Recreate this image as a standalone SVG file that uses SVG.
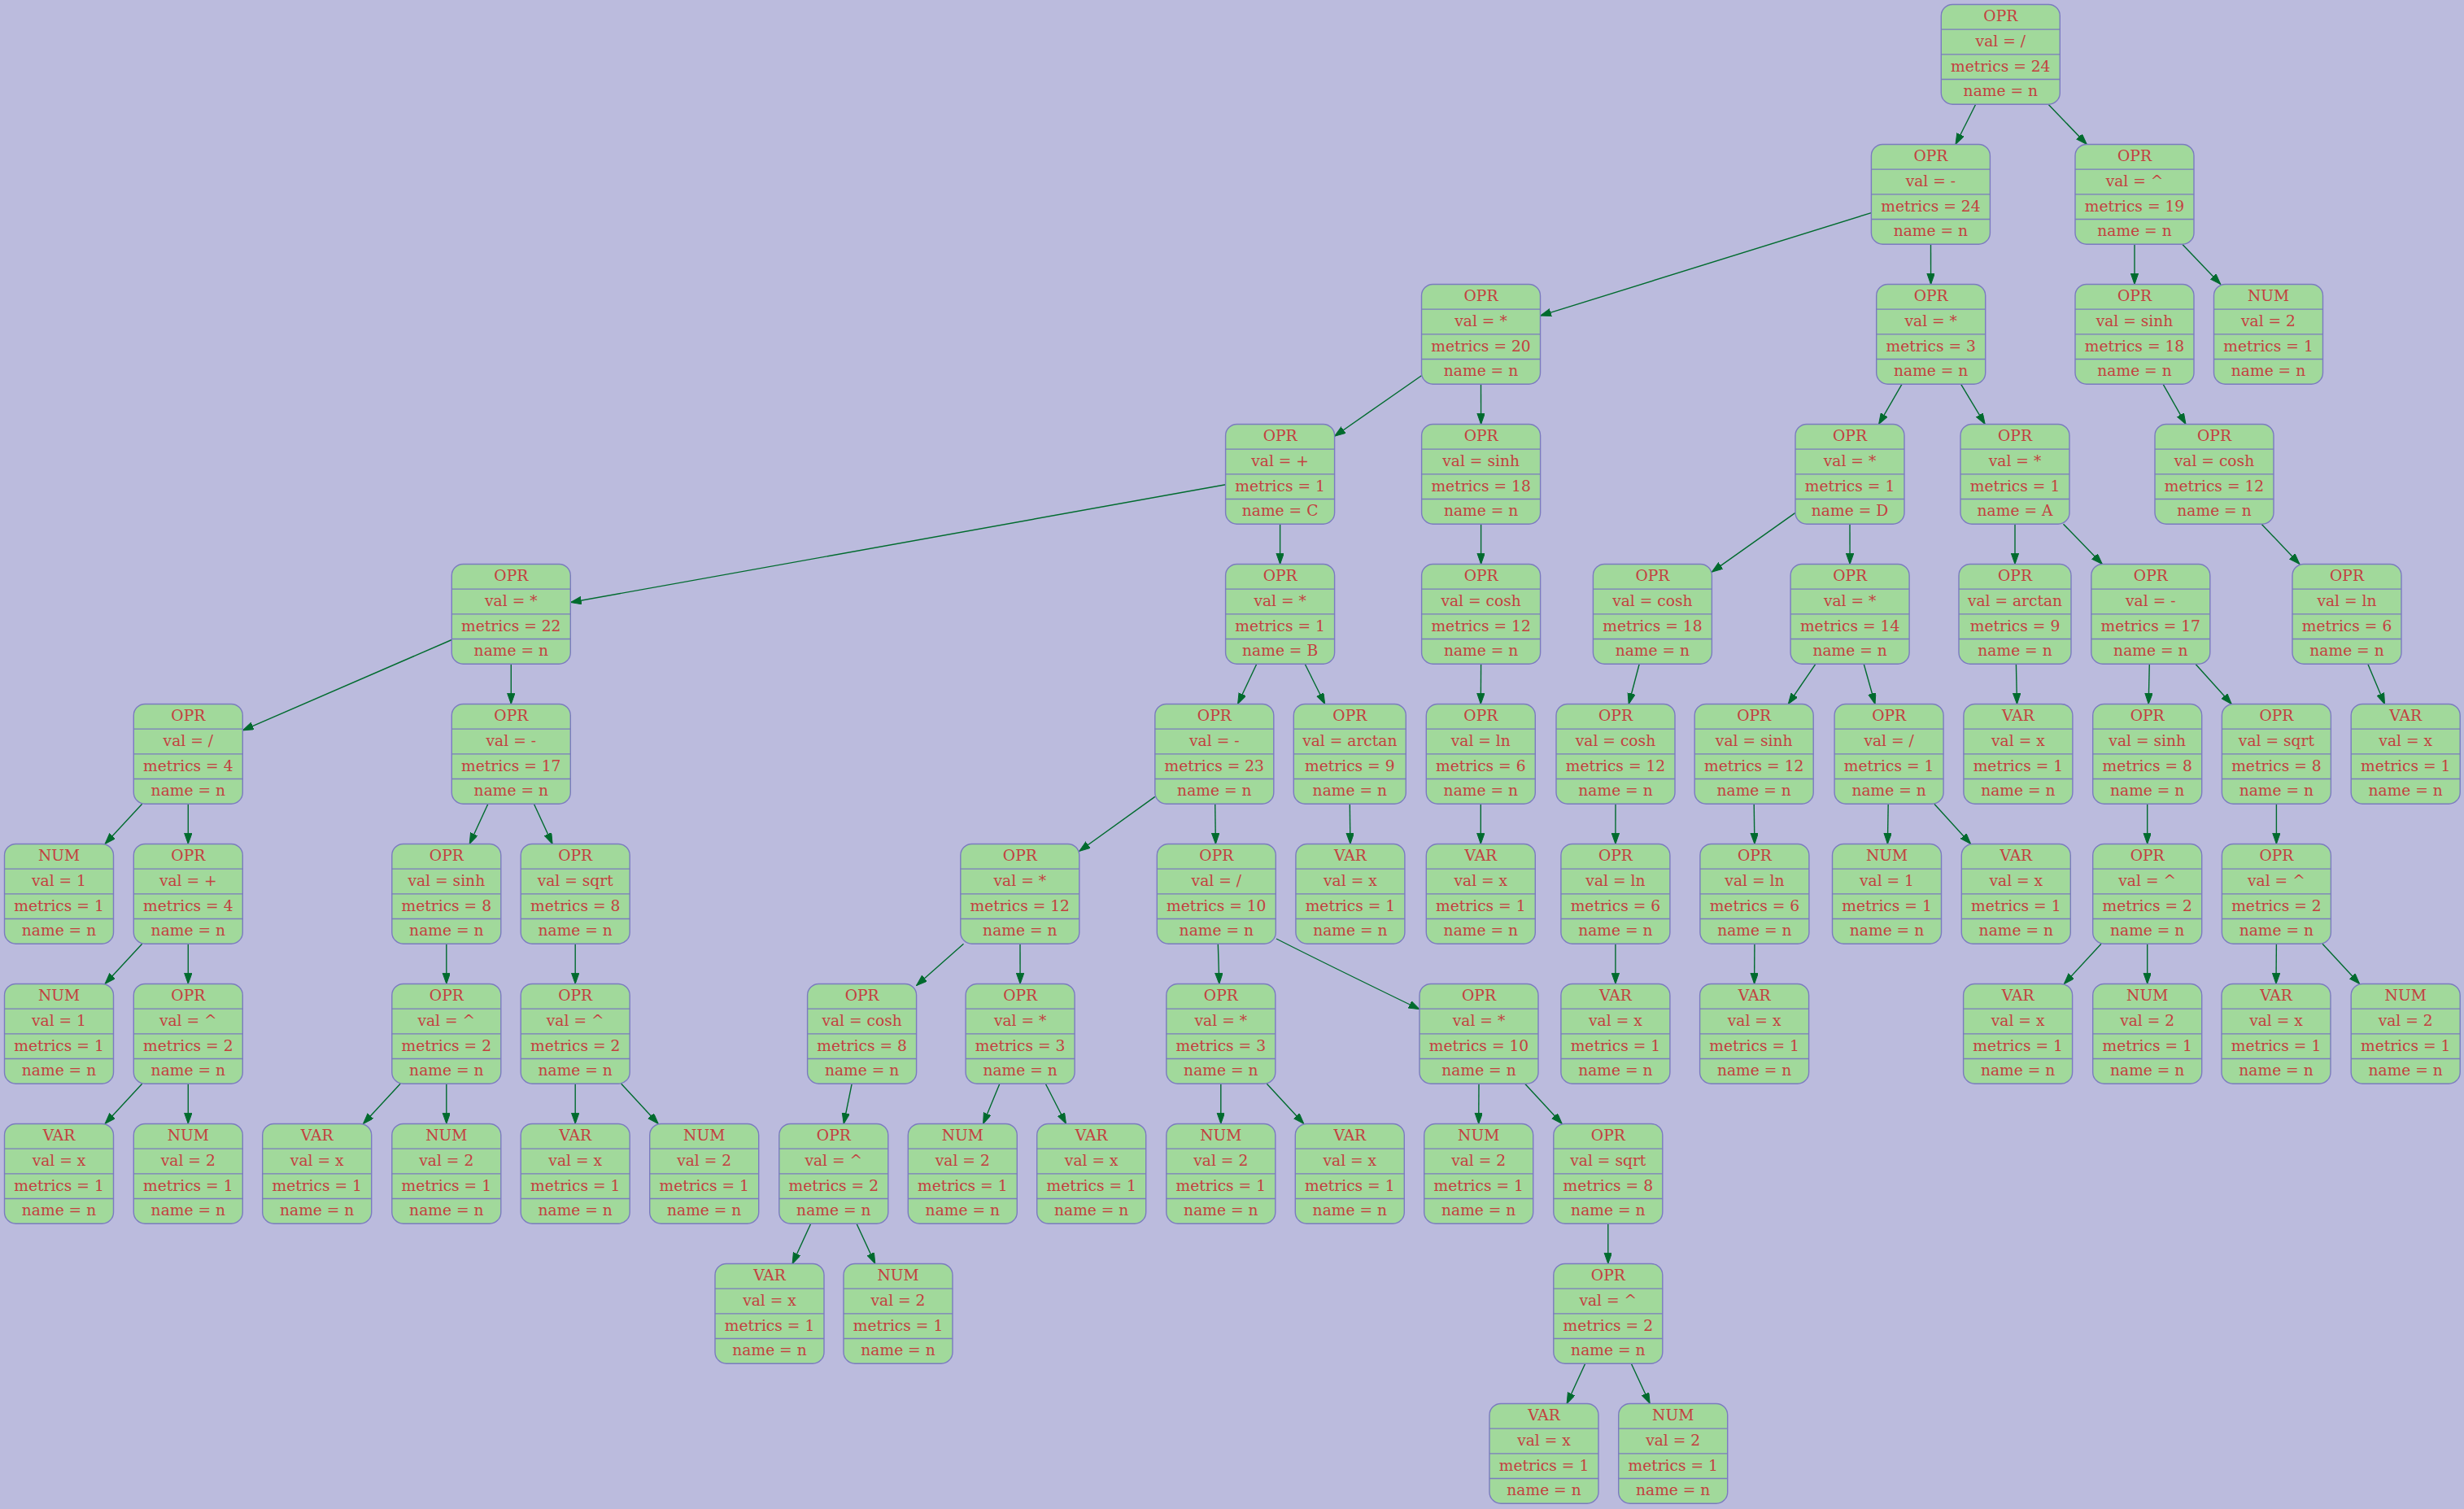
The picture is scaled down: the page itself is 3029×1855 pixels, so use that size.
<svg xmlns="http://www.w3.org/2000/svg" width="3029" height="1855" viewBox="0 0 3029 1855">
<defs>
<style>
.nd rect{fill:#a1d99b;stroke:#7b7bc0;stroke-width:1.4}
.nd path{fill:none;stroke:#7b7bc0;stroke-width:1.4}
.nd text{font-family:"DejaVu Serif","Liberation Serif",serif;font-size:18.67px;fill:#c44040;text-anchor:middle}
.e{fill:none;stroke:#006b2e;stroke-width:1.4;marker-end:url(#arr)}
</style>
<marker id="arr" markerUnits="userSpaceOnUse" markerWidth="14" markerHeight="10" refX="13.33" refY="4.67" orient="auto"><path d="M0,0 L13.33,4.67 L0,9.33 z" fill="#006b2e" stroke="#006b2e" stroke-width="1"/></marker>
</defs>
<rect x="0" y="0" width="3029" height="1855" fill="#bbbbdd"/>
<g id="edges">
<path class="e" d="M2428.7,128.2 L2404.0,177.5"/>
<path class="e" d="M2518.0,128.2 L2565.3,177.5"/>
<path class="e" d="M2300.4,261.6 L1893.5,388.1"/>
<path class="e" d="M2373.5,300.2 L2373.6,349.5"/>
<path class="e" d="M2624,300.2 L2624,349.5"/>
<path class="e" d="M2682.7,300.2 L2729.8,349.5"/>
<path class="e" d="M1747.5,461.7 L1640.6,536.2"/>
<path class="e" d="M1820.5,472.2 L1820.6,521.5"/>
<path class="e" d="M2338.1,472.2 L2309.6,521.5"/>
<path class="e" d="M2410.5,472.2 L2440.2,521.5"/>
<path class="e" d="M2659.0,472.2 L2687.0,521.5"/>
<path class="e" d="M1506.6,595.8 L701.3,740.5"/>
<path class="e" d="M1573.6,644.2 L1573.6,693.5"/>
<path class="e" d="M1820.6,644.2 L1820.6,693.5"/>
<path class="e" d="M2207,630.4 L2104.4,703.1"/>
<path class="e" d="M2274,644.2 L2274.1,693.5"/>
<path class="e" d="M2477,644.2 L2477,693.5"/>
<path class="e" d="M2536.5,644.2 L2584.3,693.5"/>
<path class="e" d="M2780.1,644.2 L2826.9,693.5"/>
<path class="e" d="M555.3,786.5 L298.3,897.8"/>
<path class="e" d="M628.3,816.2 L628.3,865.5"/>
<path class="e" d="M1544.8,816.2 L1521.6,865.5"/>
<path class="e" d="M1604.2,816.2 L1628.7,865.5"/>
<path class="e" d="M1820.6,816.2 L1820.3,865.5"/>
<path class="e" d="M2015.2,816.2 L2002.2,865.5"/>
<path class="e" d="M2232.0,816.2 L2198.3,865.5"/>
<path class="e" d="M2291.2,816.2 L2305.0,865.5"/>
<path class="e" d="M2478.4,816.2 L2479.5,865.5"/>
<path class="e" d="M2642.3,816.2 L2641.2,865.5"/>
<path class="e" d="M2698.9,816.2 L2743.3,865.5"/>
<path class="e" d="M2910.8,816.2 L2931.5,865.5"/>
<path class="e" d="M174.7,988.2 L129.1,1037.5"/>
<path class="e" d="M231.3,988.2 L231.3,1037.5"/>
<path class="e" d="M599.9,988.2 L577.2,1037.5"/>
<path class="e" d="M656.4,988.2 L679.1,1037.5"/>
<path class="e" d="M1419.8,979.4 L1326.8,1046.3"/>
<path class="e" d="M1493.7,988.2 L1494.4,1037.5"/>
<path class="e" d="M1659.3,988.2 L1659.9,1037.5"/>
<path class="e" d="M1820.3,988.2 L1820.3,1037.5"/>
<path class="e" d="M1986,988.2 L1985.9,1037.5"/>
<path class="e" d="M2156.2,988.2 L2156.9,1037.5"/>
<path class="e" d="M2321.2,988.2 L2320.4,1037.5"/>
<path class="e" d="M2377.8,988.2 L2422.6,1037.5"/>
<path class="e" d="M2639.7,988.2 L2639.7,1037.5"/>
<path class="e" d="M2798.4,988.2 L2798.4,1037.5"/>
<path class="e" d="M174.7,1160.2 L129.1,1209.5"/>
<path class="e" d="M231.3,1160.2 L231.3,1209.5"/>
<path class="e" d="M548.8,1160.2 L548.8,1209.5"/>
<path class="e" d="M707.2,1160.2 L707.2,1209.5"/>
<path class="e" d="M1184.5,1160.2 L1126.6,1211.5"/>
<path class="e" d="M1254,1160.2 L1254.1,1209.5"/>
<path class="e" d="M1497.3,1160.2 L1498.8,1209.5"/>
<path class="e" d="M1569,1154 C1620,1180 1690,1214 1745,1240.7"/>
<path class="e" d="M1985.9,1160.2 L1985.9,1209.5"/>
<path class="e" d="M2156.9,1160.2 L2156.6,1209.5"/>
<path class="e" d="M2583.0,1160.2 L2537.4,1209.5"/>
<path class="e" d="M2639.7,1160.2 L2639.7,1209.5"/>
<path class="e" d="M2798.4,1160.2 L2798,1209.5"/>
<path class="e" d="M2855.0,1160.2 L2900.6,1209.5"/>
<path class="e" d="M174.7,1332.2 L129.1,1381.5"/>
<path class="e" d="M231.3,1332.2 L231.3,1381.5"/>
<path class="e" d="M492.1,1332.2 L446.5,1381.5"/>
<path class="e" d="M548.8,1332.2 L548.8,1381.5"/>
<path class="e" d="M707.2,1332.2 L707.2,1381.5"/>
<path class="e" d="M763.7,1332.2 L809.2,1381.5"/>
<path class="e" d="M1047.2,1332.2 L1037.2,1381.5"/>
<path class="e" d="M1228.9,1332.2 L1208.6,1381.5"/>
<path class="e" d="M1285.3,1332.2 L1310.5,1381.5"/>
<path class="e" d="M1500.8,1332.2 L1500.8,1381.5"/>
<path class="e" d="M1557.3,1332.2 L1602.8,1381.5"/>
<path class="e" d="M1818,1332.2 L1817.7,1381.5"/>
<path class="e" d="M1874.6,1332.2 L1920.2,1381.5"/>
<path class="e" d="M996.7,1504.2 L974.1,1553.5"/>
<path class="e" d="M1053.0,1504.2 L1075.8,1553.5"/>
<path class="e" d="M1976.8,1504.2 L1976.8,1553.5"/>
<path class="e" d="M1948.7,1676.2 L1926.1,1725.5"/>
<path class="e" d="M2005.3,1676.2 L2028.2,1725.5"/>
</g>
<g id="n0" class="nd" transform="translate(2459.3,5.5)"><rect x="-73" width="146" height="122.7" rx="14"/><path d="M-73,30.67H73M-73,61.33H73M-73,92H73"/><text y="20.7">OPR</text><text y="51.4">val = /</text><text y="82">metrics = 24</text><text y="112.7">name = n</text></g>
<g id="n1" class="nd" transform="translate(2373.4,177.5)"><rect x="-73" width="146" height="122.7" rx="14"/><path d="M-73,30.67H73M-73,61.33H73M-73,92H73"/><text y="20.7">OPR</text><text y="51.4">val = -</text><text y="82">metrics = 24</text><text y="112.7">name = n</text></g>
<g id="n2" class="nd" transform="translate(2624,177.5)"><rect x="-73" width="146" height="122.7" rx="14"/><path d="M-73,30.67H73M-73,61.33H73M-73,92H73"/><text y="20.7">OPR</text><text y="51.4">val = ^</text><text y="82">metrics = 19</text><text y="112.7">name = n</text></g>
<g id="n3" class="nd" transform="translate(1820.5,349.5)"><rect x="-73" width="146" height="122.7" rx="14"/><path d="M-73,30.67H73M-73,61.33H73M-73,92H73"/><text y="20.7">OPR</text><text y="51.4">val = *</text><text y="82">metrics = 20</text><text y="112.7">name = n</text></g>
<g id="n4" class="nd" transform="translate(2373.7,349.5)"><rect x="-67" width="134" height="122.7" rx="14"/><path d="M-67,30.67H67M-67,61.33H67M-67,92H67"/><text y="20.7">OPR</text><text y="51.4">val = *</text><text y="82">metrics = 3</text><text y="112.7">name = n</text></g>
<g id="n5" class="nd" transform="translate(2624,349.5)"><rect x="-73" width="146" height="122.7" rx="14"/><path d="M-73,30.67H73M-73,61.33H73M-73,92H73"/><text y="20.7">OPR</text><text y="51.4">val = sinh</text><text y="82">metrics = 18</text><text y="112.7">name = n</text></g>
<g id="n6" class="nd" transform="translate(2788.5,349.5)"><rect x="-67" width="134" height="122.7" rx="14"/><path d="M-67,30.67H67M-67,61.33H67M-67,92H67"/><text y="20.7">NUM</text><text y="51.4">val = 2</text><text y="82">metrics = 1</text><text y="112.7">name = n</text></g>
<g id="n7" class="nd" transform="translate(1573.6,521.5)"><rect x="-67" width="134" height="122.7" rx="14"/><path d="M-67,30.67H67M-67,61.33H67M-67,92H67"/><text y="20.7">OPR</text><text y="51.4">val = +</text><text y="82">metrics = 1</text><text y="112.7">name = C</text></g>
<g id="n8" class="nd" transform="translate(1820.6,521.5)"><rect x="-73" width="146" height="122.7" rx="14"/><path d="M-73,30.67H73M-73,61.33H73M-73,92H73"/><text y="20.7">OPR</text><text y="51.4">val = sinh</text><text y="82">metrics = 18</text><text y="112.7">name = n</text></g>
<g id="n9" class="nd" transform="translate(2274,521.5)"><rect x="-67" width="134" height="122.7" rx="14"/><path d="M-67,30.67H67M-67,61.33H67M-67,92H67"/><text y="20.7">OPR</text><text y="51.4">val = *</text><text y="82">metrics = 1</text><text y="112.7">name = D</text></g>
<g id="n10" class="nd" transform="translate(2477,521.5)"><rect x="-67" width="134" height="122.7" rx="14"/><path d="M-67,30.67H67M-67,61.33H67M-67,92H67"/><text y="20.7">OPR</text><text y="51.4">val = *</text><text y="82">metrics = 1</text><text y="112.7">name = A</text></g>
<g id="n11" class="nd" transform="translate(2722,521.5)"><rect x="-73" width="146" height="122.7" rx="14"/><path d="M-73,30.67H73M-73,61.33H73M-73,92H73"/><text y="20.7">OPR</text><text y="51.4">val = cosh</text><text y="82">metrics = 12</text><text y="112.7">name = n</text></g>
<g id="n12" class="nd" transform="translate(628.3,693.5)"><rect x="-73" width="146" height="122.7" rx="14"/><path d="M-73,30.67H73M-73,61.33H73M-73,92H73"/><text y="20.7">OPR</text><text y="51.4">val = *</text><text y="82">metrics = 22</text><text y="112.7">name = n</text></g>
<g id="n13" class="nd" transform="translate(1573.6,693.5)"><rect x="-67" width="134" height="122.7" rx="14"/><path d="M-67,30.67H67M-67,61.33H67M-67,92H67"/><text y="20.7">OPR</text><text y="51.4">val = *</text><text y="82">metrics = 1</text><text y="112.7">name = B</text></g>
<g id="n14" class="nd" transform="translate(1820.6,693.5)"><rect x="-73" width="146" height="122.7" rx="14"/><path d="M-73,30.67H73M-73,61.33H73M-73,92H73"/><text y="20.7">OPR</text><text y="51.4">val = cosh</text><text y="82">metrics = 12</text><text y="112.7">name = n</text></g>
<g id="n15" class="nd" transform="translate(2031.4,693.5)"><rect x="-73" width="146" height="122.7" rx="14"/><path d="M-73,30.67H73M-73,61.33H73M-73,92H73"/><text y="20.7">OPR</text><text y="51.4">val = cosh</text><text y="82">metrics = 18</text><text y="112.7">name = n</text></g>
<g id="n16" class="nd" transform="translate(2274.1,693.5)"><rect x="-73" width="146" height="122.7" rx="14"/><path d="M-73,30.67H73M-73,61.33H73M-73,92H73"/><text y="20.7">OPR</text><text y="51.4">val = *</text><text y="82">metrics = 14</text><text y="112.7">name = n</text></g>
<g id="n17" class="nd" transform="translate(2477,693.5)"><rect x="-69" width="138" height="122.7" rx="14"/><path d="M-69,30.67H69M-69,61.33H69M-69,92H69"/><text y="20.7">OPR</text><text y="51.4">val = arctan</text><text y="82">metrics = 9</text><text y="112.7">name = n</text></g>
<g id="n18" class="nd" transform="translate(2643.8,693.5)"><rect x="-73" width="146" height="122.7" rx="14"/><path d="M-73,30.67H73M-73,61.33H73M-73,92H73"/><text y="20.7">OPR</text><text y="51.4">val = -</text><text y="82">metrics = 17</text><text y="112.7">name = n</text></g>
<g id="n19" class="nd" transform="translate(2885,693.5)"><rect x="-67" width="134" height="122.7" rx="14"/><path d="M-67,30.67H67M-67,61.33H67M-67,92H67"/><text y="20.7">OPR</text><text y="51.4">val = ln</text><text y="82">metrics = 6</text><text y="112.7">name = n</text></g>
<g id="n20" class="nd" transform="translate(231.3,865.5)"><rect x="-67" width="134" height="122.7" rx="14"/><path d="M-67,30.67H67M-67,61.33H67M-67,92H67"/><text y="20.7">OPR</text><text y="51.4">val = /</text><text y="82">metrics = 4</text><text y="112.7">name = n</text></g>
<g id="n21" class="nd" transform="translate(628.3,865.5)"><rect x="-73" width="146" height="122.7" rx="14"/><path d="M-73,30.67H73M-73,61.33H73M-73,92H73"/><text y="20.7">OPR</text><text y="51.4">val = -</text><text y="82">metrics = 17</text><text y="112.7">name = n</text></g>
<g id="n22" class="nd" transform="translate(1492.8,865.5)"><rect x="-73" width="146" height="122.7" rx="14"/><path d="M-73,30.67H73M-73,61.33H73M-73,92H73"/><text y="20.7">OPR</text><text y="51.4">val = -</text><text y="82">metrics = 23</text><text y="112.7">name = n</text></g>
<g id="n23" class="nd" transform="translate(1659.3,865.5)"><rect x="-69" width="138" height="122.7" rx="14"/><path d="M-69,30.67H69M-69,61.33H69M-69,92H69"/><text y="20.7">OPR</text><text y="51.4">val = arctan</text><text y="82">metrics = 9</text><text y="112.7">name = n</text></g>
<g id="n24" class="nd" transform="translate(1820.3,865.5)"><rect x="-67" width="134" height="122.7" rx="14"/><path d="M-67,30.67H67M-67,61.33H67M-67,92H67"/><text y="20.7">OPR</text><text y="51.4">val = ln</text><text y="82">metrics = 6</text><text y="112.7">name = n</text></g>
<g id="n25" class="nd" transform="translate(1986,865.5)"><rect x="-73" width="146" height="122.7" rx="14"/><path d="M-73,30.67H73M-73,61.33H73M-73,92H73"/><text y="20.7">OPR</text><text y="51.4">val = cosh</text><text y="82">metrics = 12</text><text y="112.7">name = n</text></g>
<g id="n26" class="nd" transform="translate(2156.2,865.5)"><rect x="-73" width="146" height="122.7" rx="14"/><path d="M-73,30.67H73M-73,61.33H73M-73,92H73"/><text y="20.7">OPR</text><text y="51.4">val = sinh</text><text y="82">metrics = 12</text><text y="112.7">name = n</text></g>
<g id="n27" class="nd" transform="translate(2322.1,865.5)"><rect x="-67" width="134" height="122.7" rx="14"/><path d="M-67,30.67H67M-67,61.33H67M-67,92H67"/><text y="20.7">OPR</text><text y="51.4">val = /</text><text y="82">metrics = 1</text><text y="112.7">name = n</text></g>
<g id="n28" class="nd" transform="translate(2480.9,865.5)"><rect x="-67" width="134" height="122.7" rx="14"/><path d="M-67,30.67H67M-67,61.33H67M-67,92H67"/><text y="20.7">VAR</text><text y="51.4">val = x</text><text y="82">metrics = 1</text><text y="112.7">name = n</text></g>
<g id="n29" class="nd" transform="translate(2639.7,865.5)"><rect x="-67" width="134" height="122.7" rx="14"/><path d="M-67,30.67H67M-67,61.33H67M-67,92H67"/><text y="20.7">OPR</text><text y="51.4">val = sinh</text><text y="82">metrics = 8</text><text y="112.7">name = n</text></g>
<g id="n30" class="nd" transform="translate(2798.4,865.5)"><rect x="-67" width="134" height="122.7" rx="14"/><path d="M-67,30.67H67M-67,61.33H67M-67,92H67"/><text y="20.7">OPR</text><text y="51.4">val = sqrt</text><text y="82">metrics = 8</text><text y="112.7">name = n</text></g>
<g id="n31" class="nd" transform="translate(2957.2,865.5)"><rect x="-67" width="134" height="122.7" rx="14"/><path d="M-67,30.67H67M-67,61.33H67M-67,92H67"/><text y="20.7">VAR</text><text y="51.4">val = x</text><text y="82">metrics = 1</text><text y="112.7">name = n</text></g>
<g id="n32" class="nd" transform="translate(72.5,1037.5)"><rect x="-67" width="134" height="122.7" rx="14"/><path d="M-67,30.67H67M-67,61.33H67M-67,92H67"/><text y="20.7">NUM</text><text y="51.4">val = 1</text><text y="82">metrics = 1</text><text y="112.7">name = n</text></g>
<g id="n33" class="nd" transform="translate(231.3,1037.5)"><rect x="-67" width="134" height="122.7" rx="14"/><path d="M-67,30.67H67M-67,61.33H67M-67,92H67"/><text y="20.7">OPR</text><text y="51.4">val = +</text><text y="82">metrics = 4</text><text y="112.7">name = n</text></g>
<g id="n34" class="nd" transform="translate(548.8,1037.5)"><rect x="-67" width="134" height="122.7" rx="14"/><path d="M-67,30.67H67M-67,61.33H67M-67,92H67"/><text y="20.7">OPR</text><text y="51.4">val = sinh</text><text y="82">metrics = 8</text><text y="112.7">name = n</text></g>
<g id="n35" class="nd" transform="translate(707.2,1037.5)"><rect x="-67" width="134" height="122.7" rx="14"/><path d="M-67,30.67H67M-67,61.33H67M-67,92H67"/><text y="20.7">OPR</text><text y="51.4">val = sqrt</text><text y="82">metrics = 8</text><text y="112.7">name = n</text></g>
<g id="n36" class="nd" transform="translate(1253.8,1037.5)"><rect x="-73" width="146" height="122.7" rx="14"/><path d="M-73,30.67H73M-73,61.33H73M-73,92H73"/><text y="20.7">OPR</text><text y="51.4">val = *</text><text y="82">metrics = 12</text><text y="112.7">name = n</text></g>
<g id="n37" class="nd" transform="translate(1495.3,1037.5)"><rect x="-73" width="146" height="122.7" rx="14"/><path d="M-73,30.67H73M-73,61.33H73M-73,92H73"/><text y="20.7">OPR</text><text y="51.4">val = /</text><text y="82">metrics = 10</text><text y="112.7">name = n</text></g>
<g id="n38" class="nd" transform="translate(1659.9,1037.5)"><rect x="-67" width="134" height="122.7" rx="14"/><path d="M-67,30.67H67M-67,61.33H67M-67,92H67"/><text y="20.7">VAR</text><text y="51.4">val = x</text><text y="82">metrics = 1</text><text y="112.7">name = n</text></g>
<g id="n39" class="nd" transform="translate(1820.3,1037.5)"><rect x="-67" width="134" height="122.7" rx="14"/><path d="M-67,30.67H67M-67,61.33H67M-67,92H67"/><text y="20.7">VAR</text><text y="51.4">val = x</text><text y="82">metrics = 1</text><text y="112.7">name = n</text></g>
<g id="n40" class="nd" transform="translate(1985.9,1037.5)"><rect x="-67" width="134" height="122.7" rx="14"/><path d="M-67,30.67H67M-67,61.33H67M-67,92H67"/><text y="20.7">OPR</text><text y="51.4">val = ln</text><text y="82">metrics = 6</text><text y="112.7">name = n</text></g>
<g id="n41" class="nd" transform="translate(2156.9,1037.5)"><rect x="-67" width="134" height="122.7" rx="14"/><path d="M-67,30.67H67M-67,61.33H67M-67,92H67"/><text y="20.7">OPR</text><text y="51.4">val = ln</text><text y="82">metrics = 6</text><text y="112.7">name = n</text></g>
<g id="n42" class="nd" transform="translate(2319.5,1037.5)"><rect x="-67" width="134" height="122.7" rx="14"/><path d="M-67,30.67H67M-67,61.33H67M-67,92H67"/><text y="20.7">NUM</text><text y="51.4">val = 1</text><text y="82">metrics = 1</text><text y="112.7">name = n</text></g>
<g id="n43" class="nd" transform="translate(2478.3,1037.5)"><rect x="-67" width="134" height="122.7" rx="14"/><path d="M-67,30.67H67M-67,61.33H67M-67,92H67"/><text y="20.7">VAR</text><text y="51.4">val = x</text><text y="82">metrics = 1</text><text y="112.7">name = n</text></g>
<g id="n44" class="nd" transform="translate(2639.7,1037.5)"><rect x="-67" width="134" height="122.7" rx="14"/><path d="M-67,30.67H67M-67,61.33H67M-67,92H67"/><text y="20.7">OPR</text><text y="51.4">val = ^</text><text y="82">metrics = 2</text><text y="112.7">name = n</text></g>
<g id="n45" class="nd" transform="translate(2798.4,1037.5)"><rect x="-67" width="134" height="122.7" rx="14"/><path d="M-67,30.67H67M-67,61.33H67M-67,92H67"/><text y="20.7">OPR</text><text y="51.4">val = ^</text><text y="82">metrics = 2</text><text y="112.7">name = n</text></g>
<g id="n46" class="nd" transform="translate(72.5,1209.5)"><rect x="-67" width="134" height="122.7" rx="14"/><path d="M-67,30.67H67M-67,61.33H67M-67,92H67"/><text y="20.7">NUM</text><text y="51.4">val = 1</text><text y="82">metrics = 1</text><text y="112.7">name = n</text></g>
<g id="n47" class="nd" transform="translate(231.3,1209.5)"><rect x="-67" width="134" height="122.7" rx="14"/><path d="M-67,30.67H67M-67,61.33H67M-67,92H67"/><text y="20.7">OPR</text><text y="51.4">val = ^</text><text y="82">metrics = 2</text><text y="112.7">name = n</text></g>
<g id="n48" class="nd" transform="translate(548.8,1209.5)"><rect x="-67" width="134" height="122.7" rx="14"/><path d="M-67,30.67H67M-67,61.33H67M-67,92H67"/><text y="20.7">OPR</text><text y="51.4">val = ^</text><text y="82">metrics = 2</text><text y="112.7">name = n</text></g>
<g id="n49" class="nd" transform="translate(707.2,1209.5)"><rect x="-67" width="134" height="122.7" rx="14"/><path d="M-67,30.67H67M-67,61.33H67M-67,92H67"/><text y="20.7">OPR</text><text y="51.4">val = ^</text><text y="82">metrics = 2</text><text y="112.7">name = n</text></g>
<g id="n50" class="nd" transform="translate(1059.6,1209.5)"><rect x="-67" width="134" height="122.7" rx="14"/><path d="M-67,30.67H67M-67,61.33H67M-67,92H67"/><text y="20.7">OPR</text><text y="51.4">val = cosh</text><text y="82">metrics = 8</text><text y="112.7">name = n</text></g>
<g id="n51" class="nd" transform="translate(1254.1,1209.5)"><rect x="-67" width="134" height="122.7" rx="14"/><path d="M-67,30.67H67M-67,61.33H67M-67,92H67"/><text y="20.7">OPR</text><text y="51.4">val = *</text><text y="82">metrics = 3</text><text y="112.7">name = n</text></g>
<g id="n52" class="nd" transform="translate(1500.8,1209.5)"><rect x="-67" width="134" height="122.7" rx="14"/><path d="M-67,30.67H67M-67,61.33H67M-67,92H67"/><text y="20.7">OPR</text><text y="51.4">val = *</text><text y="82">metrics = 3</text><text y="112.7">name = n</text></g>
<g id="n53" class="nd" transform="translate(1818,1209.5)"><rect x="-73" width="146" height="122.7" rx="14"/><path d="M-73,30.67H73M-73,61.33H73M-73,92H73"/><text y="20.7">OPR</text><text y="51.4">val = *</text><text y="82">metrics = 10</text><text y="112.7">name = n</text></g>
<g id="n54" class="nd" transform="translate(1985.9,1209.5)"><rect x="-67" width="134" height="122.7" rx="14"/><path d="M-67,30.67H67M-67,61.33H67M-67,92H67"/><text y="20.7">VAR</text><text y="51.4">val = x</text><text y="82">metrics = 1</text><text y="112.7">name = n</text></g>
<g id="n55" class="nd" transform="translate(2156.6,1209.5)"><rect x="-67" width="134" height="122.7" rx="14"/><path d="M-67,30.67H67M-67,61.33H67M-67,92H67"/><text y="20.7">VAR</text><text y="51.4">val = x</text><text y="82">metrics = 1</text><text y="112.7">name = n</text></g>
<g id="n74" class="nd" transform="translate(2480.6,1209.5)"><rect x="-67" width="134" height="122.7" rx="14"/><path d="M-67,30.67H67M-67,61.33H67M-67,92H67"/><text y="20.7">VAR</text><text y="51.4">val = x</text><text y="82">metrics = 1</text><text y="112.7">name = n</text></g>
<g id="n75" class="nd" transform="translate(2639.7,1209.5)"><rect x="-67" width="134" height="122.7" rx="14"/><path d="M-67,30.67H67M-67,61.33H67M-67,92H67"/><text y="20.7">NUM</text><text y="51.4">val = 2</text><text y="82">metrics = 1</text><text y="112.7">name = n</text></g>
<g id="n76" class="nd" transform="translate(2798,1209.5)"><rect x="-67" width="134" height="122.7" rx="14"/><path d="M-67,30.67H67M-67,61.33H67M-67,92H67"/><text y="20.7">VAR</text><text y="51.4">val = x</text><text y="82">metrics = 1</text><text y="112.7">name = n</text></g>
<g id="n77" class="nd" transform="translate(2957.2,1209.5)"><rect x="-67" width="134" height="122.7" rx="14"/><path d="M-67,30.67H67M-67,61.33H67M-67,92H67"/><text y="20.7">NUM</text><text y="51.4">val = 2</text><text y="82">metrics = 1</text><text y="112.7">name = n</text></g>
<g id="n56" class="nd" transform="translate(72.5,1381.5)"><rect x="-67" width="134" height="122.7" rx="14"/><path d="M-67,30.67H67M-67,61.33H67M-67,92H67"/><text y="20.7">VAR</text><text y="51.4">val = x</text><text y="82">metrics = 1</text><text y="112.7">name = n</text></g>
<g id="n57" class="nd" transform="translate(231.3,1381.5)"><rect x="-67" width="134" height="122.7" rx="14"/><path d="M-67,30.67H67M-67,61.33H67M-67,92H67"/><text y="20.7">NUM</text><text y="51.4">val = 2</text><text y="82">metrics = 1</text><text y="112.7">name = n</text></g>
<g id="n58" class="nd" transform="translate(389.7,1381.5)"><rect x="-67" width="134" height="122.7" rx="14"/><path d="M-67,30.67H67M-67,61.33H67M-67,92H67"/><text y="20.7">VAR</text><text y="51.4">val = x</text><text y="82">metrics = 1</text><text y="112.7">name = n</text></g>
<g id="n59" class="nd" transform="translate(548.8,1381.5)"><rect x="-67" width="134" height="122.7" rx="14"/><path d="M-67,30.67H67M-67,61.33H67M-67,92H67"/><text y="20.7">NUM</text><text y="51.4">val = 2</text><text y="82">metrics = 1</text><text y="112.7">name = n</text></g>
<g id="n60" class="nd" transform="translate(707.2,1381.5)"><rect x="-67" width="134" height="122.7" rx="14"/><path d="M-67,30.67H67M-67,61.33H67M-67,92H67"/><text y="20.7">VAR</text><text y="51.4">val = x</text><text y="82">metrics = 1</text><text y="112.7">name = n</text></g>
<g id="n61" class="nd" transform="translate(865.7,1381.5)"><rect x="-67" width="134" height="122.7" rx="14"/><path d="M-67,30.67H67M-67,61.33H67M-67,92H67"/><text y="20.7">NUM</text><text y="51.4">val = 2</text><text y="82">metrics = 1</text><text y="112.7">name = n</text></g>
<g id="n62" class="nd" transform="translate(1024.8,1381.5)"><rect x="-67" width="134" height="122.7" rx="14"/><path d="M-67,30.67H67M-67,61.33H67M-67,92H67"/><text y="20.7">OPR</text><text y="51.4">val = ^</text><text y="82">metrics = 2</text><text y="112.7">name = n</text></g>
<g id="n63" class="nd" transform="translate(1183.3,1381.5)"><rect x="-67" width="134" height="122.7" rx="14"/><path d="M-67,30.67H67M-67,61.33H67M-67,92H67"/><text y="20.7">NUM</text><text y="51.4">val = 2</text><text y="82">metrics = 1</text><text y="112.7">name = n</text></g>
<g id="n64" class="nd" transform="translate(1341.7,1381.5)"><rect x="-67" width="134" height="122.7" rx="14"/><path d="M-67,30.67H67M-67,61.33H67M-67,92H67"/><text y="20.7">VAR</text><text y="51.4">val = x</text><text y="82">metrics = 1</text><text y="112.7">name = n</text></g>
<g id="n65" class="nd" transform="translate(1500.8,1381.5)"><rect x="-67" width="134" height="122.7" rx="14"/><path d="M-67,30.67H67M-67,61.33H67M-67,92H67"/><text y="20.7">NUM</text><text y="51.4">val = 2</text><text y="82">metrics = 1</text><text y="112.7">name = n</text></g>
<g id="n66" class="nd" transform="translate(1659.3,1381.5)"><rect x="-67" width="134" height="122.7" rx="14"/><path d="M-67,30.67H67M-67,61.33H67M-67,92H67"/><text y="20.7">VAR</text><text y="51.4">val = x</text><text y="82">metrics = 1</text><text y="112.7">name = n</text></g>
<g id="n67" class="nd" transform="translate(1817.7,1381.5)"><rect x="-67" width="134" height="122.7" rx="14"/><path d="M-67,30.67H67M-67,61.33H67M-67,92H67"/><text y="20.7">NUM</text><text y="51.4">val = 2</text><text y="82">metrics = 1</text><text y="112.7">name = n</text></g>
<g id="n68" class="nd" transform="translate(1976.8,1381.5)"><rect x="-67" width="134" height="122.7" rx="14"/><path d="M-67,30.67H67M-67,61.33H67M-67,92H67"/><text y="20.7">OPR</text><text y="51.4">val = sqrt</text><text y="82">metrics = 8</text><text y="112.7">name = n</text></g>
<g id="n69" class="nd" transform="translate(946,1553.5)"><rect x="-67" width="134" height="122.7" rx="14"/><path d="M-67,30.67H67M-67,61.33H67M-67,92H67"/><text y="20.7">VAR</text><text y="51.4">val = x</text><text y="82">metrics = 1</text><text y="112.7">name = n</text></g>
<g id="n70" class="nd" transform="translate(1104,1553.5)"><rect x="-67" width="134" height="122.7" rx="14"/><path d="M-67,30.67H67M-67,61.33H67M-67,92H67"/><text y="20.7">NUM</text><text y="51.4">val = 2</text><text y="82">metrics = 1</text><text y="112.7">name = n</text></g>
<g id="n71" class="nd" transform="translate(1976.8,1553.5)"><rect x="-67" width="134" height="122.7" rx="14"/><path d="M-67,30.67H67M-67,61.33H67M-67,92H67"/><text y="20.7">OPR</text><text y="51.4">val = ^</text><text y="82">metrics = 2</text><text y="112.7">name = n</text></g>
<g id="n72" class="nd" transform="translate(1898,1725.5)"><rect x="-67" width="134" height="122.7" rx="14"/><path d="M-67,30.67H67M-67,61.33H67M-67,92H67"/><text y="20.7">VAR</text><text y="51.4">val = x</text><text y="82">metrics = 1</text><text y="112.7">name = n</text></g>
<g id="n73" class="nd" transform="translate(2056.7,1725.5)"><rect x="-67" width="134" height="122.7" rx="14"/><path d="M-67,30.67H67M-67,61.33H67M-67,92H67"/><text y="20.7">NUM</text><text y="51.4">val = 2</text><text y="82">metrics = 1</text><text y="112.7">name = n</text></g>
</svg>
